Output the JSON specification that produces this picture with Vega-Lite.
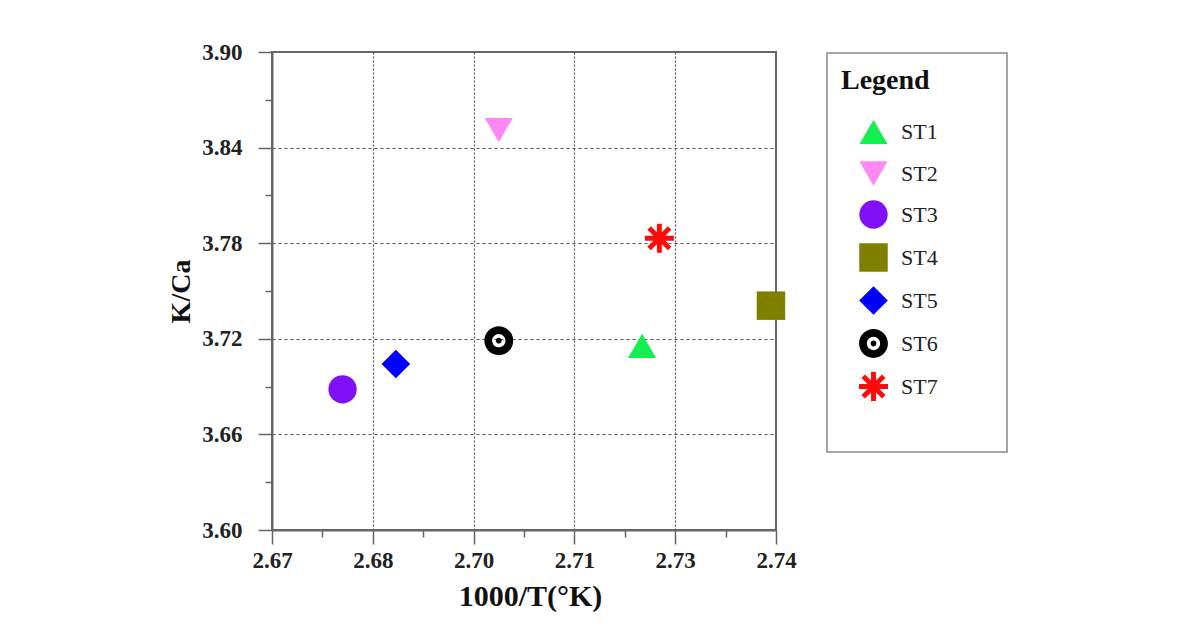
{
  "$schema": "https://vega.github.io/schema/vega-lite/v6.json",
  "autosize": {"type": "none"},
  "width": 504,
  "height": 478,
  "padding": {"left": 272, "top": 52, "right": 407, "bottom": 94},
  "background": "white",
  "data": {
    "values": [
      {"series": "ST1", "invT": 2.7214, "KCa": 3.7155},
      {"series": "ST2", "invT": 2.7015, "KCa": 3.851},
      {"series": "ST3", "invT": 2.6798, "KCa": 3.6883},
      {"series": "ST4", "invT": 2.7393, "KCa": 3.7408},
      {"series": "ST5", "invT": 2.6872, "KCa": 3.7042},
      {"series": "ST6", "invT": 2.7015, "KCa": 3.7188},
      {"series": "ST7", "invT": 2.7238, "KCa": 3.7831}
    ]
  },
  "mark": {"type": "point", "filled": true, "opacity": 1, "strokeWidth": 0},
  "encoding": {
    "x": {
      "field": "invT",
      "type": "quantitative",
      "scale": {"domain": [2.67, 2.74], "nice": false, "zero": false},
      "axis": {
        "title": "1000/T(°K)",
        "values": [2.67, 2.677, 2.684, 2.691, 2.698, 2.705, 2.712, 2.719, 2.726, 2.733, 2.74],
        "labelExpr": "round((datum.value-2.67)/0.007)%2==0 ? format(datum.value,'.2f') : ''",
        "tickSize": {"condition": {"test": "round((datum.value-2.67)/0.007)%2==0", "value": 14}, "value": 7},
        "gridOpacity": {"condition": {"test": "round((datum.value-2.67)/0.007)%2==0 && datum.value>2.671 && datum.value<2.739", "value": 1}, "value": 0},
        "gridDash": [2, 2],
        "labelPadding": 5,
        "titlePadding": 9,
        "titleFontSize": 30,
        "titleX": 258
      }
    },
    "y": {
      "field": "KCa",
      "type": "quantitative",
      "scale": {"domain": [3.6, 3.9], "nice": false, "zero": false},
      "axis": {
        "title": "K/Ca",
        "values": [3.6, 3.63, 3.66, 3.69, 3.72, 3.75, 3.78, 3.81, 3.84, 3.87, 3.9],
        "labelExpr": "round((datum.value-3.6)/0.03)%2==0 ? format(datum.value,'.2f') : ''",
        "tickSize": {"condition": {"test": "round((datum.value-3.6)/0.03)%2==0", "value": 14}, "value": 7},
        "gridOpacity": {"condition": {"test": "round((datum.value-3.6)/0.03)%2==0 && datum.value>3.601 && datum.value<3.899", "value": 1}, "value": 0},
        "gridDash": [3, 3],
        "labelPadding": 16,
        "titlePadding": 6
      }
    },
    "color": {
      "field": "series",
      "type": "nominal",
      "scale": {
        "domain": ["ST1", "ST2", "ST3", "ST4", "ST5", "ST6", "ST7"],
        "range": ["#14ee50", "#ff88f5", "#8010f8", "#808000", "#0000ff", "#000000", "#ff0a0a"]
      },
      "legend": {
        "title": "Legend\u00a0\u00a0\u00a0\u00a0\u00a0\u00a0\u00a0\u00a0\u00a0\u200b",
        "orient": "none",
        "legendX": 555,
        "legendY": 1,
        "labelExpr": "datum.label == 'ST7' ? ['ST7', '\u200b'] : datum.label",
        "encode": {"labels": {"update": {"lineHeight": {"value": 40}}}}
      }
    },
    "shape": {
      "field": "series",
      "type": "nominal",
      "scale": {
        "domain": ["ST1", "ST2", "ST3", "ST4", "ST5", "ST6", "ST7"],
        "range": [
          "triangle-up",
          "triangle-down",
          "circle",
          "square",
          "diamond",
          "M1,0A1,1,0,1,1,-1,0A1,1,0,1,1,1,0ZM0.46,0A0.46,0.46,0,1,0,-0.46,0A0.46,0.46,0,1,0,0.46,0ZM0.2,0A0.2,0.2,0,1,1,-0.2,0A0.2,0.2,0,1,1,0.2,0Z",
          "M-1,-0.17L1,-0.17L1,0.17L-1,0.17ZM0.17,-1L0.17,1L-0.17,1L-0.17,-1ZM-0.587,-0.827L0.827,0.587L0.587,0.827L-0.827,-0.587ZM-0.827,0.587L0.587,-0.827L0.827,-0.587L-0.587,0.827Z"
        ]
      },
      "legend": {
        "title": "Legend\u00a0\u00a0\u00a0\u00a0\u00a0\u00a0\u00a0\u00a0\u00a0\u200b",
        "orient": "none",
        "legendX": 555,
        "legendY": 1,
        "labelExpr": "datum.label == 'ST7' ? ['ST7', '\u200b'] : datum.label",
        "encode": {"labels": {"update": {"lineHeight": {"value": 40}}}}
      }
    },
    "size": {
      "field": "series",
      "type": "nominal",
      "scale": {
        "domain": ["ST1", "ST2", "ST3", "ST4", "ST5", "ST6", "ST7"],
        "range": [784, 841, 625, 650, 540, 625, 800]
      },
      "legend": {
        "title": "Legend\u00a0\u00a0\u00a0\u00a0\u00a0\u00a0\u00a0\u00a0\u00a0\u200b",
        "orient": "none",
        "legendX": 555,
        "legendY": 1,
        "labelExpr": "datum.label == 'ST7' ? ['ST7', '\u200b'] : datum.label",
        "encode": {"labels": {"update": {"lineHeight": {"value": 40}}}}
      }
    }
  },
  "config": {
    "view": {"stroke": "#666666", "strokeWidth": 2},
    "axis": {
      "domainColor": "#666666",
      "domainWidth": 2,
      "tickColor": "#666666",
      "tickWidth": 1.5,
      "gridColor": "#555555",
      "gridWidth": 1.2,
      "labelFont": "Liberation Serif",
      "labelFontSize": 23,
      "labelFontWeight": "bold",
      "labelColor": "#222222",
      "labelOverlap": false,
      "labelFlush": false,
      "labelBound": false,
      "titleFont": "Liberation Serif",
      "titleFontSize": 28,
      "titleFontWeight": "bold",
      "titleColor": "#111111"
    },
    "legend": {
      "titleFont": "Liberation Serif",
      "titleFontSize": 28,
      "titleFontWeight": "bold",
      "titleColor": "#111111",
      "titlePadding": 23,
      "labelFont": "Liberation Serif",
      "labelFontSize": 22,
      "labelColor": "#222222",
      "padding": 14,
      "strokeColor": "#888888",
      "strokeWidth": 1.5,
      "fillColor": "white",
      "rowPadding": 14,
      "symbolOffset": 18,
      "labelOffset": 13,
      "symbolStrokeWidth": 0,
      "symbolOpacity": 1
    }
  }
}
